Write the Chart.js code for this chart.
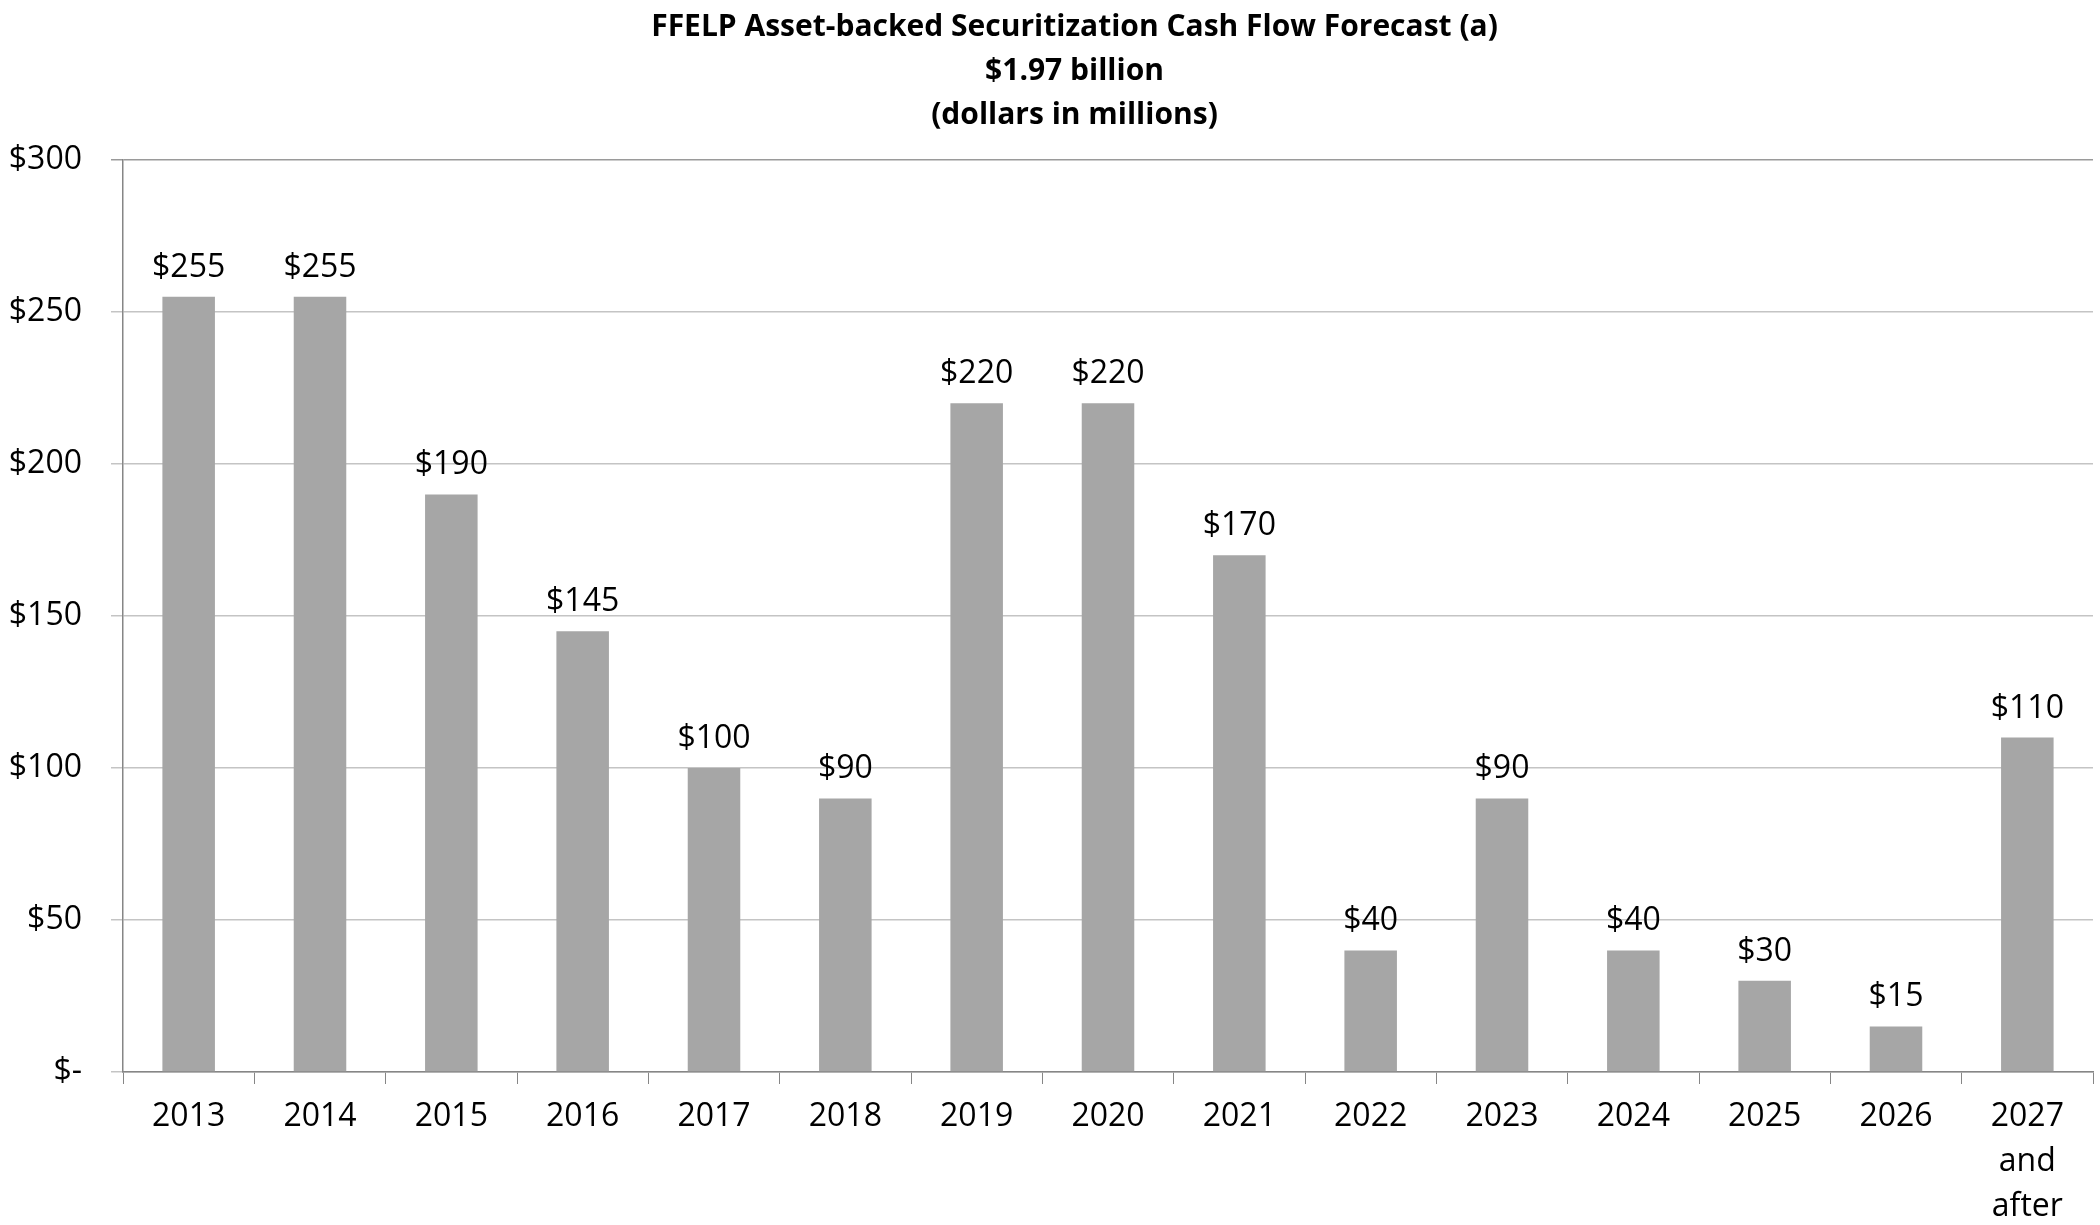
<!DOCTYPE html>
<html>
<head>
<meta charset="utf-8">
<script src="https://cdn.jsdelivr.net/npm/chart.js@4/dist/chart.umd.min.js"></script>
<style>
	html, body { margin: 0; padding: 0; background: #fff; }
	#wrap { width: 2100px; height: 1225px; }
</style>
</head>
<body>
<div id="wrap"><canvas id="chart" width="2100" height="1225"></canvas></div>
<script>
const years = [
	"2013", "2014", "2015", "2016", "2017", "2018", "2019", "2020",
	"2021", "2022", "2023", "2024", "2025", "2026", ["2027", "and", "after"]
]
const cashFlow = [255, 255, 190, 145, 100, 90, 220, 220, 170, 40, 90, 40, 30, 15, 110]
const yTicks = [0, 50, 100, 150, 200, 250, 300]
const titleLines = [
	"FFELP Asset-backed Securitization Cash Flow Forecast (a)",
	"$1.97 billion",
	"(dollars in millions)"
]

const money = v => v === 0 ? "$-" : "$" + v

// draws the "$255" style labels on top of each bar
const barLabels = {
	id: "barLabels",
	afterLayout: chart => {
		// title sits a little right of the page centre in the original
		const t = chart.titleBlock
		t.left += 28
		t.right += 28
	},
	afterDatasetsDraw: chart => {
		const ctx = chart.ctx
		ctx.save()
		ctx.font = "32px 'Open Sans'"
		ctx.fillStyle = "#000"
		ctx.textAlign = "center"
		ctx.textBaseline = "alphabetic"
		chart.getDatasetMeta(0).data.forEach((bar, i) => {
			ctx.fillText(money(cashFlow[i]), bar.x, bar.y - 20)
		})
		ctx.restore()
	}
}

const initChart = () => {
	let chart = new Chart(
		document.getElementById("chart"),
		{
			type: 'bar',
			data: {
				labels: years,
				datasets: [
					{
						data: cashFlow,
						backgroundColor: "#a6a6a6",
						borderWidth: 0,
						barPercentage: 0.4,
						categoryPercentage: 1
					}
				]
			},
			options: {
				responsive: false,
				animation: false,
				devicePixelRatio: 1,
				layout: {
					padding: {left: 0, right: 7, top: 0, bottom: 0}
				},
				plugins: {
					legend: {display: false},
					tooltip: {enabled: false},
					title: {
						display: true,
						text: titleLines,
						color: "#000",
						font: {family: "'Open Sans'", size: 30, weight: "bold", lineHeight: 44 / 30},
						padding: {top: 5, bottom: 23}
					}
				},
				scales: {
					x: {
						afterFit: axis => { axis.height = 153 },
						grid: {
							offset: true,
							drawOnChartArea: false,
							tickLength: 12,
							color: "#868686"
						},
						border: {color: "#868686", width: 1.5},
						ticks: {
							color: "#000",
							padding: 10,
							maxRotation: 0,
							autoSkip: false,
							font: {family: "'Open Sans'", size: 32, lineHeight: 45 / 32}
						}
					},
					y: {
						min: 0,
						max: 300,
						afterBuildTicks: axis => {
							axis.ticks = yTicks.map(v => ({value: v}))
						},
						afterFit: axis => { axis.width = 123 },
						grid: {
							tickLength: 12,
							color: c => c.tick && c.tick.value === 300 ? "#9a9a9a" : "#c4c4c4",
							lineWidth: 1.5
						},
						border: {color: "#868686", width: 1.5},
						ticks: {
							color: "#000",
							padding: 29,
							callback: v => money(v),
							font: {family: "'Open Sans'", size: 32}
						}
					}
				}
			},
			plugins: [barLabels]
		}
	)
}

initChart()
</script>
</body>
</html>
